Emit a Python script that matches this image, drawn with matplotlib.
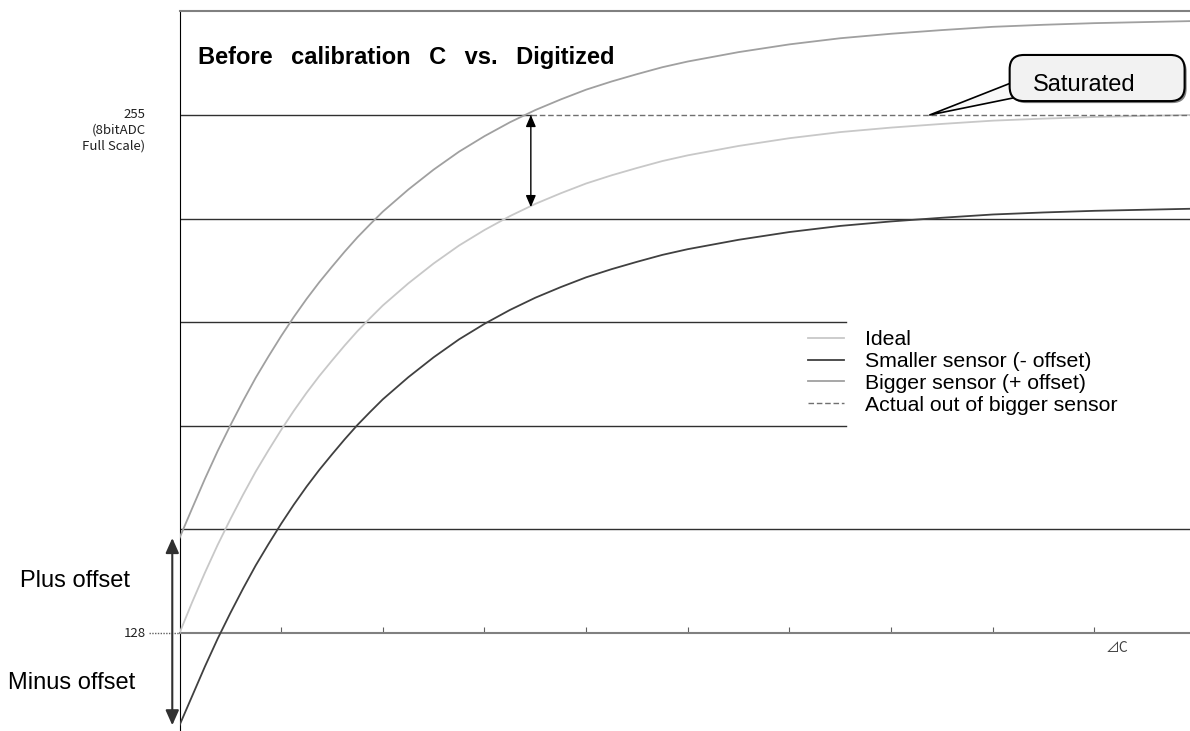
import matplotlib.pyplot as plt
from matplotlib.patches import FancyBboxPatch

plt.rcParams['font.family'] = ['Liberation Sans', 'DejaVu Sans']

# данные
x = [0, 0.125, 0.25, 0.375, 0.5, 0.625, 0.75, 0.875, 1, 1.125, 1.25, 1.375, 1.5, 1.625, 1.75,
     1.875, 2, 2.25, 2.5, 2.75, 3, 3.25, 3.5, 3.75, 4, 4.25, 4.5, 4.75, 5, 5.5, 6, 6.5, 7,
     7.5, 8, 8.5, 9, 9.94]
ideal = [128, 135.6, 142.8, 149.6, 155.9, 161.9, 167.6, 172.8, 177.8, 182.5, 186.9, 191.0,
         194.8, 198.5, 202.0, 205.2, 208.3, 213.7, 218.6, 223.0, 226.8, 230.2, 233.2, 235.8,
         238.2, 240.2, 242.0, 243.7, 245.1, 247.4, 249.3, 250.8, 251.9, 252.8, 253.6, 254.1,
         254.5, 255.0]
bigger = [151.3, 158.6, 165.8, 172.6, 178.9, 184.9, 190.6, 195.8, 200.8, 205.5, 209.9, 214.0,
          217.8, 221.5, 225.0, 228.2, 231.3, 236.7, 241.6, 246.0, 249.8, 253.2, 256.2, 258.8,
          261.2, 263.2, 265.0, 266.7, 268.1, 270.4, 272.3, 273.8, 274.9, 275.8, 276.6, 277.1,
          277.5, 278.0]
smaller = [105.4, 112.6, 119.8, 126.6, 132.9, 138.9, 144.6, 149.8, 154.8, 159.5, 163.9, 168.0,
           171.8, 175.5, 179.0, 182.2, 185.3, 190.7, 195.6, 200.0, 203.8, 207.2, 210.2, 212.8,
           215.2, 217.2, 219.0, 220.7, 222.1, 224.4, 226.3, 227.8, 228.9, 229.8, 230.6, 231.1,
           231.5, 232.0]

full_scale = 255
zero_level = 128
sat_start = 3.456          # где bigger достигает 255
ideal_at_sat = 232.4
grid_levels = [153.4, 178.8, 204.2, 229.6]
grid_ends = [9.94, 6.56, 6.56, 9.94]
tick_pos = [1, 2, 3, 4, 5, 6, 7, 8, 9]

fig = plt.figure(figsize=(11.9, 7.31), dpi=100)
ax = fig.add_axes([179.5 / 1190, 0, 1 - 179.5 / 1190, (731 - 10.5) / 731])
ax.set_xlim(0, 9.94)
ax.set_ylim(104.0, 280.6)

# сетка
for lev, xe in zip(grid_levels, grid_ends):
    ax.plot([0, xe], [lev, lev], color='#303030', lw=1, zorder=1)
ax.plot([0, sat_start], [full_scale, full_scale], color='#303030', lw=1, zorder=1)

# кривые
ax.plot(x, ideal, color='#c8c8c8', lw=1.3, label='Ideal', zorder=3)
ax.plot(x, smaller, color='#404040', lw=1.3, label='Smaller sensor (- offset)', zorder=3)
ax.plot(x, bigger, color='#a0a0a0', lw=1.3, label='Bigger sensor (+ offset)', zorder=3)
ax.plot([sat_start, 9.94], [full_scale, full_scale], color='#707070', lw=1,
        ls=(0, (4, 2)), label='Actual out of bigger sensor', zorder=3)

# оси
ax.spines['right'].set_visible(False)
ax.spines['bottom'].set_position(('data', zero_level))
ax.spines['bottom'].set_color('#808080')
ax.spines['bottom'].set_linewidth(1.5)
ax.spines['top'].set_color('#808080')
ax.spines['top'].set_linewidth(1.5)
ax.spines['left'].set_color('black')
ax.set_xticks(tick_pos)
ax.set_xticklabels([])
ax.tick_params(axis='x', direction='in', length=4, color='#606060')
ax.set_yticks([])

# стрелки
ax.annotate('', xy=(sat_start, full_scale), xytext=(sat_start, ideal_at_sat),
            arrowprops=dict(arrowstyle='<|-|>,head_length=0.7,head_width=0.3',
                            mutation_scale=10, color='black', lw=1, shrinkA=0, shrinkB=0))
ax.annotate('', xy=(-0.071, bigger[0]), xytext=(-0.071, smaller[0]),
            arrowprops=dict(arrowstyle='<|-|>,head_length=0.9,head_width=0.4',
                            mutation_scale=10, color='#303030', lw=1.5, shrinkA=0, shrinkB=0),
            annotation_clip=False)

# подписи
sp = '\u2002 '
ax.text(0.18, 269.2, sp.join(['Before', 'calibration', 'C', 'vs.', 'Digitized']), fontsize=17,
        fontweight='bold', ha='left', va='center')
ax.text(-1.568, 140.7, 'Plus offset', fontsize=17, ha='left', va='center')
ax.text(-1.686, 115.7, 'Minus offset', fontsize=17, ha='left', va='center')
jp = ['Noto Sans CJK JP', 'DejaVu Sans']
ax.text(-0.335, 128, '128', fontsize=9.5, ha='right', va='center', family=jp, color='#202020')
ax.plot([-0.30, 0], [zero_level, zero_level], color='#606060', lw=1, ls=(0, (1, 1)),
        clip_on=False)
ax.text(-0.335, 256.6, '255\n(8bitADC\nFull Scale)', fontsize=9.5, ha='right', va='top',
        multialignment='right', family=jp, linespacing=1.25, color='#202020')
ax.text(9.11, 124.3, '⊿C', fontsize=10, ha='left', va='center', family=jp, color='#404040')

# выноска Saturated
ax.annotate('', xy=(7.38, full_scale), xytext=(8.22, 261.2),
            arrowprops=dict(arrowstyle='wedge,tail_width=0.8,shrink_factor=0.5',
                            mutation_scale=14, fc='#f8f8f8', ec='black', lw=1.2,
                            shrinkA=0, shrinkB=0), zorder=5)
shadow = FancyBboxPatch((8.186, 257.9), 9.887 - 8.166, 269.7 - 258.4,
                        boxstyle='round,pad=0,rounding_size=0.14', mutation_aspect=24.9,
                        fc='#808080', ec='none', zorder=5.5)
ax.add_patch(shadow)
box = FancyBboxPatch((8.166, 258.4), 9.887 - 8.166, 269.7 - 258.4,
                     boxstyle='round,pad=0,rounding_size=0.14', mutation_aspect=24.9,
                     fc='#f2f2f2', ec='black', lw=1.5, zorder=6)
ax.add_patch(box)
ax.text(8.39, 262.3, 'Saturated', fontsize=17, ha='left', va='center', zorder=7)

ax.legend(loc='upper left', bbox_to_anchor=(0.622, 0.556), frameon=False, fontsize=15.3,
          handlelength=1.7, handletextpad=1.0, labelspacing=0.13, borderpad=0,
          borderaxespad=0)

fig.savefig('out.png', dpi=100)
